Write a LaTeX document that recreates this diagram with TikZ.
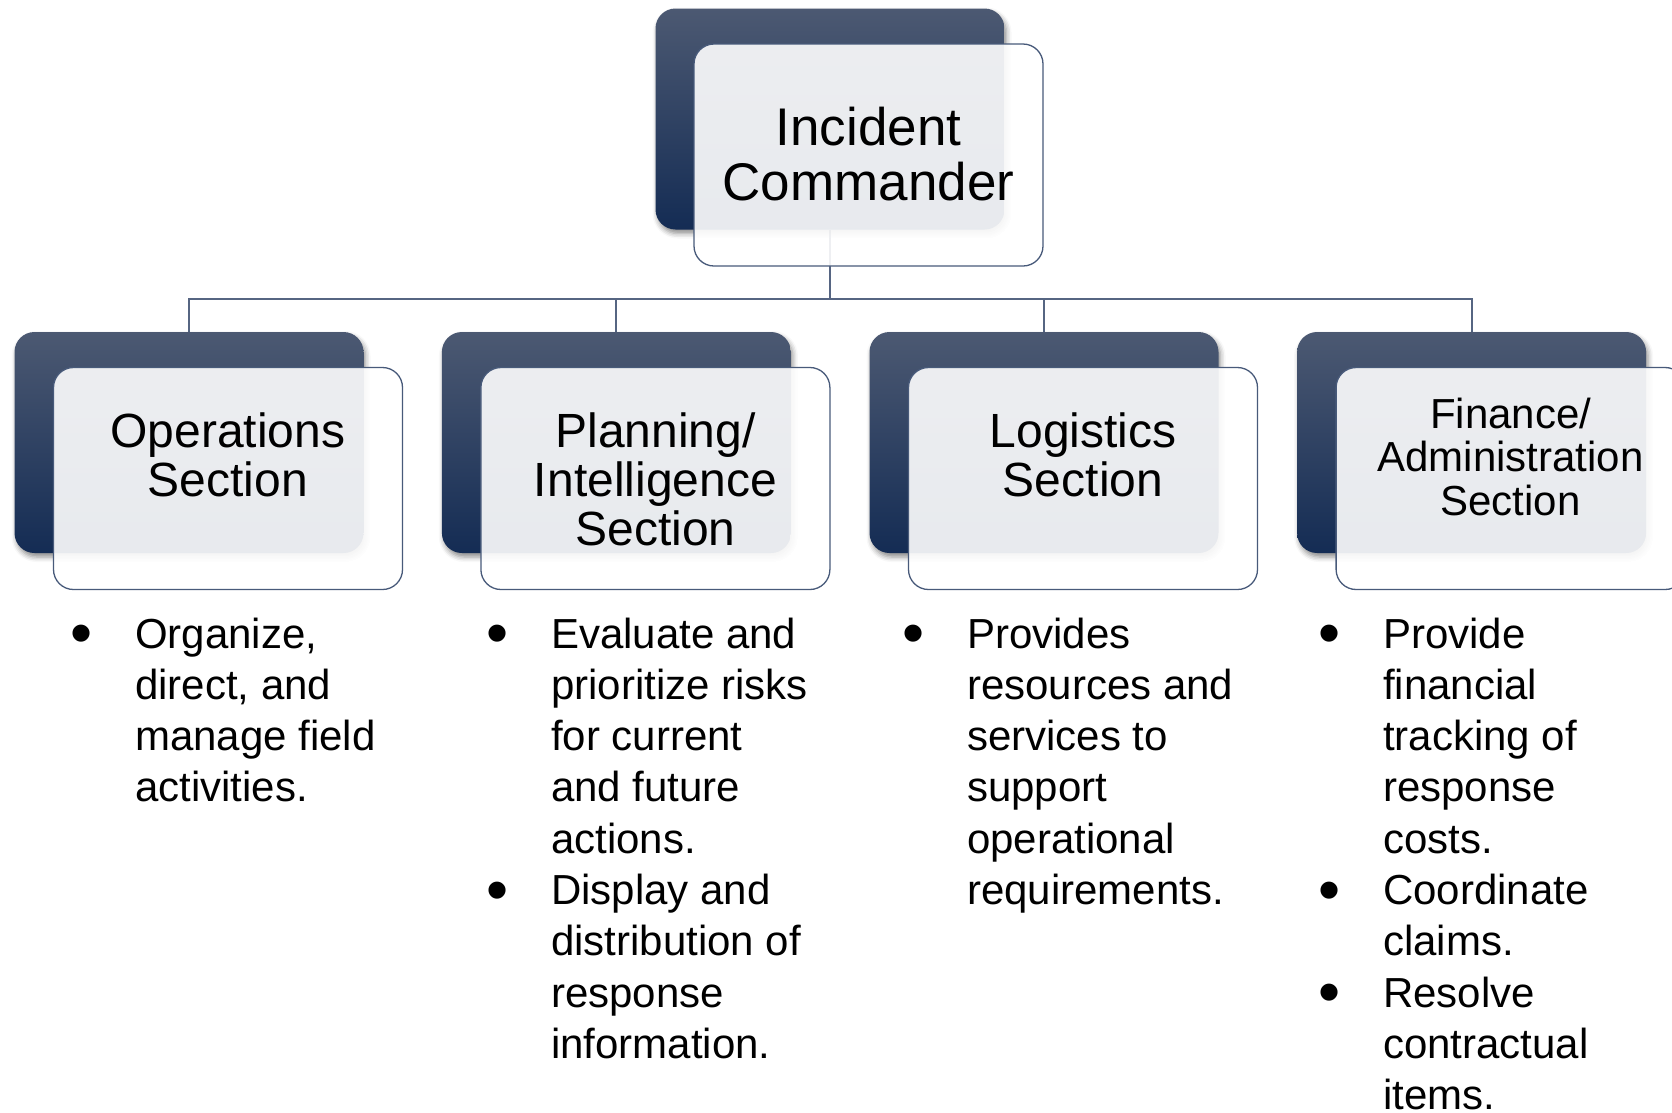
\documentclass[tikz,border=0pt]{standalone}
\usepackage{fontspec}
\setmainfont{Liberation Sans}
\usetikzlibrary{shadows.blur}
\definecolor{navytop}{RGB}{76,89,114}
\definecolor{navybot}{RGB}{20,44,84}
\definecolor{edgeblue}{RGB}{72,90,122}
\definecolor{linkblue}{RGB}{86,101,130}
\pgfdeclarelayer{bg}
\pgfsetlayers{bg,main}
\begin{document}
\begin{tikzpicture}[x=1pt,y=-1pt,
  darkbox/.style={rounded corners=20pt, minimum width=349pt, minimum height=221pt, inner sep=0pt,
    top color=navytop, bottom color=navybot, draw=none,
    blur shadow={shadow xshift=2pt, shadow yshift=-4pt, shadow blur radius=5pt, shadow opacity=45}},
  lightbox/.style={rounded corners=20pt, minimum width=349pt, minimum height=222pt, inner sep=0pt,
    fill=white, fill opacity=0.9, draw=edgeblue, line width=1.3pt},
  conn/.style={draw=linkblue, line width=2pt},
  toptext/.style={anchor=base, inner sep=0pt, font=\fontsize{53}{55}\selectfont},
  head/.style={anchor=base, inner sep=0pt, font=\fontsize{48}{49}\selectfont},
  headsmall/.style={anchor=base, inner sep=0pt, font=\fontsize{42}{43.5}\selectfont},
  blist/.style={anchor=base west, inner sep=0pt, font=\fontsize{42}{51.3}\selectfont}
]
\useasboundingbox (0,0) rectangle (1672,1112);
\newcommand{\bul}{\makebox[61.35pt][l]{\hspace{-3.5pt}\raisebox{-6.5pt}{\scalebox{1.5}{\textbullet}}}}

% top
\node[darkbox] (icd) at (830,119) {};
\node[lightbox, minimum width=349pt] (icl) at (868.5,155) {};
\node[toptext] (ict) at (868.5,145) {\begin{tabular}[t]{@{}c@{}}Incident\\Commander\end{tabular}};

% sections
\node[darkbox] (opd) at (189,442.5) {};
\node[lightbox] (opl) at (228,478.5) {};
\node[head] (opt) at (228,447) {\begin{tabular}[t]{@{}c@{}}Operations\\Section\end{tabular}};

\node[darkbox] (pld) at (616.4,442.5) {};
\node[lightbox] (pll) at (655.4,478.5) {};
\node[head] (plt) at (655.4,447) {\begin{tabular}[t]{@{}c@{}}Planning/\\Intelligence\\Section\end{tabular}};

\node[darkbox] (lgd) at (1044,442.5) {};
\node[lightbox] (lgl) at (1083,478.5) {};
\node[head] (lgt) at (1083,447) {\begin{tabular}[t]{@{}c@{}}Logistics\\Section\end{tabular}};

\node[darkbox] (fid) at (1471.6,442.5) {};
\node[lightbox] (fil) at (1510.6,478.5) {};
\node[headsmall] (fit) at (1510.6,428) {\begin{tabular}[t]{@{}c@{}}Finance/\\Administration\\Section\end{tabular}};

% bullet lists
\node[blist] (opb) at (73.65,648) {\begin{tabular}[t]{@{}l@{}l@{}}
\bul & Organize,\\ & direct, and\\ & manage field\\ & activities.\end{tabular}};
\node[blist] (plb) at (489.65,648) {\begin{tabular}[t]{@{}l@{}l@{}}
\bul & Evaluate and\\ & prioritize risks\\ & for current\\ & and future\\ & actions.\\
\bul & Display and\\ & distribution of\\ & response\\ & information.\end{tabular}};
\node[blist] (lgb) at (905.65,648) {\begin{tabular}[t]{@{}l@{}l@{}}
\bul & Provides\\ & resources and\\ & services to\\ & support\\ & operational\\ & requirements.\end{tabular}};
\node[blist] (fib) at (1321.65,648) {\begin{tabular}[t]{@{}l@{}l@{}}
\bul & Provide\\ & financial\\ & tracking of\\ & response\\ & costs.\\
\bul & Coordinate\\ & claims.\\
\bul & Resolve\\ & contractual\\ & items.\end{tabular}};

% connectors
\coordinate (bus) at (830,299);
\begin{pgfonlayer}{bg}
\draw[conn] (icd.south) -- (bus);
\draw[conn] (opd.north) -- (opd.north |- bus) -- (fid.north |- bus) -- (fid.north);
\draw[conn] (pld.north) -- (pld.north |- bus);
\draw[conn] (lgd.north) -- (lgd.north |- bus);
\end{pgfonlayer}
\end{tikzpicture}
\end{document}
